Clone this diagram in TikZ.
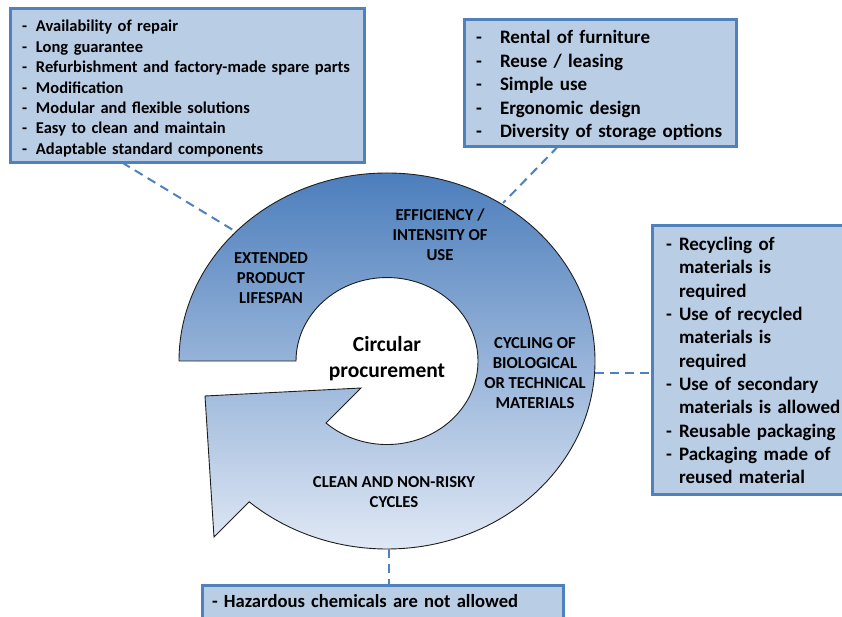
\documentclass[tikz,border=0pt]{standalone}
\usepackage{fontspec}
\setmainfont{Carlito}
\usetikzlibrary{calc}
\definecolor{boxfill}{RGB}{185,205,229}
\definecolor{boxline}{RGB}{79,129,189}
\definecolor{ringtop}{RGB}{76,126,188}
\definecolor{ringmid}{RGB}{166,191,226}
\definecolor{ringbot}{RGB}{224,232,245}
\definecolor{ringline}{RGB}{30,30,30}
\tikzset{
  infobox/.style={draw=boxline, fill=boxfill, line width=3pt, outer sep=0pt,
    anchor=north west, align=left, inner ysep=0pt},
  conn/.style={draw=boxline, line width=2pt, dash pattern=on 9pt off 6pt},
  ringlab/.style={align=center, inner sep=0pt,
    font=\fontsize{16.7}{20.2}\selectfont\bfseries},
  ringshape/.style={draw=ringline, line width=0.9pt, top color=ringtop,
    middle color=ringmid, bottom color=ringbot}
}
\newcommand\lowerby[2]{\raisebox{-#1}[\height][\depth]{#2}}
\begin{document}
\begin{tikzpicture}[x=1pt,y=1pt]
\useasboundingbox (0,0) rectangle (842,617);
\clip (0,0) rectangle (842,617);

% circular arrow
\path[ringshape] (179,256)
  arc[start angle=180, end angle=-131.5, x radius=208, y radius=188]
  -- (214,80) -- (205,221) -- (361,229) -- (326,194)
  arc[start angle=-132.1, end angle=180, x radius=91, y radius=83.5]
  -- cycle;

\coordinate (r1) at (233,387);
\coordinate (r2) at (503,414);
\coordinate (r3) at (595,244);
\coordinate (r4) at (389,68);

% ring labels
\node[ringlab] (lext) at (271,339) {EXTENDED\\PRODUCT\\LIFESPAN};
\node[ringlab] (leff) at (440,382) {EFFICIENCY /\\INTENSITY OF\\USE};
\node[ringlab] (lcyc) at (535,244) {CYCLING OF\\BIOLOGICAL\\OR TECHNICAL\\MATERIALS};
\node[ringlab] (lcln) at (394,125) {CLEAN AND NON-RISKY\\CYCLES};
\node[align=center, inner sep=0pt, font=\fontsize{21.5}{26}\selectfont\bfseries]
  (center) at (387,258) {Circular\\procurement};

% boxes
\node[infobox, minimum width=354pt, minimum height=154pt, inner xsep=11.5pt,
  text width=331pt, font=\fontsize{16.5}{20.4}\selectfont\bfseries]
  (tl) at (10.5,608.5) {\noindent\lowerby{3.5pt}{\begin{tabular}{@{}p{14pt}@{}l@{}}
  - & Availability of repair\\
  - & Long guarantee\\
  - & Refurbishment and factory-made spare parts\\
  - & Modification\\
  - & Modular and flexible solutions\\
  - & Easy to clean and maintain\\
  - & Adaptable standard components
  \end{tabular}}};

\node[infobox, minimum width=272pt, minimum height=127pt, inner xsep=11.5pt,
  text width=249pt, font=\fontsize{19}{23.6}\selectfont\bfseries]
  (tr) at (464.5,597.5) {\noindent\lowerby{3pt}{\begin{tabular}{@{}p{24pt}@{}l@{}}
  - & Rental of furniture\\
  - & Reuse / leasing\\
  - & Simple use\\
  - & Ergonomic design\\
  - & Diversity of storage options
  \end{tabular}}};

\node[infobox, minimum width=200pt, minimum height=269pt, inner xsep=13.5pt,
  text width=173pt, font=\fontsize{19}{23.3}\selectfont\bfseries]
  (rb) at (652.5,391.5) {\noindent\lowerby{2.5pt}{\begin{tabular}{@{}p{13pt}@{}l@{}}
  - & Recycling of\\
    & materials is\\
    & required\\
  - & Use of recycled\\
    & materials is\\
    & required\\
  - & Use of secondary\\
    & materials is allowed\\
  - & Reusable packaging\\
  - & Packaging made of\\
    & reused material
  \end{tabular}}};

\node[infobox, minimum width=361pt, inner xsep=9.5pt, inner ysep=8.5pt,
  text width=342pt, text height=14pt, text depth=4pt,
  font=\fontsize{18.6}{22}\selectfont\bfseries]
  (bb) at (202.5,31.5) {- Hazardous chemicals are not allowed};

% connectors
\draw[conn] ($(tl.south west)+(111.5,0)$) -- (r1);
\draw[conn] ($(tr.south west)+(93.5,0)$) -- (r2);
\draw[conn] (r3) -- (r3 -| rb.west);
\draw[conn] (r4) -- (r4 |- bb.north);
\end{tikzpicture}
\end{document}
